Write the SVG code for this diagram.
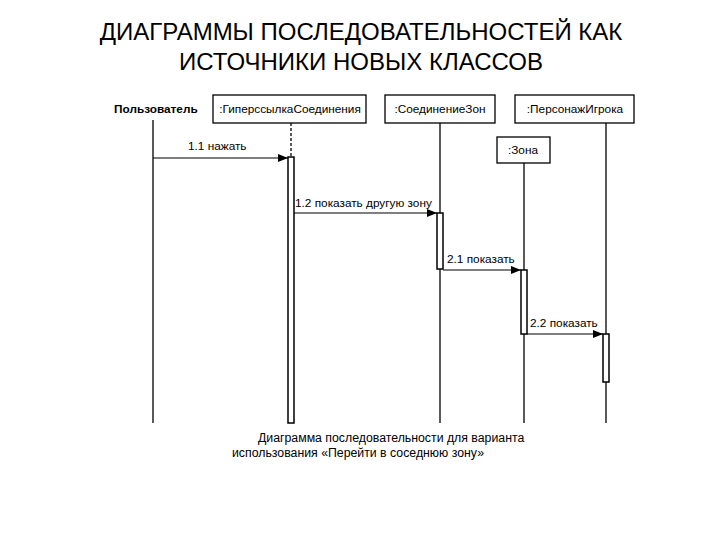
<svg xmlns="http://www.w3.org/2000/svg" width="720" height="540" viewBox="0 0 720 540">
<defs>
<style>
text{font-family:"Liberation Sans",Arial,sans-serif;fill:#000}
.t{font-size:24px}
.s{font-size:11.8px}
.c{font-size:12.3px}
.box{fill:#fff;stroke:#000;stroke-width:1.3}
.ll{stroke:#000;stroke-width:1.3}
.act{fill:#fff;stroke:#000;stroke-width:1.5}
.m{stroke:#000;stroke-width:1.2;marker-end:url(#ah)}
</style>
<marker id="ah" markerWidth="10" markerHeight="8" refX="10" refY="4" orient="auto" markerUnits="userSpaceOnUse"><path d="M0,0 L10,4 L0,8 Z" fill="#000"/></marker>
</defs>
<rect width="720" height="540" fill="#fff"/>
<text class="t" x="361" y="40" text-anchor="middle">ДИАГРАММЫ ПОСЛЕДОВАТЕЛЬНОСТЕЙ КАК</text>
<text class="t" x="361" y="70" text-anchor="middle">ИСТОЧНИКИ НОВЫХ КЛАССОВ</text>
<g id="user"><text class="s" x="114" y="113" font-weight="bold" font-size="11px">Пользователь</text><line class="ll" x1="153" y1="120" x2="153" y2="423"/></g>
<g id="hyper"><rect class="box" x="213" y="95" width="153" height="28"/><text class="s" x="290" y="113" text-anchor="middle">:ГиперссылкаСоединения</text><line class="ll" x1="291" y1="123" x2="291" y2="157" stroke-dasharray="3,2"/><rect class="act" x="288" y="157" width="6" height="266"/></g>
<g id="conn"><rect class="box" x="385" y="95" width="110" height="28"/><text class="s" x="440" y="113" text-anchor="middle">:СоединениеЗон</text><line class="ll" x1="440" y1="123" x2="440" y2="423"/><rect class="act" x="437" y="213" width="6" height="56"/></g>
<g id="zona"><rect class="box" x="497" y="137" width="53" height="26"/><text class="s" x="523" y="154" text-anchor="middle">:Зона</text><line class="ll" x1="524" y1="163" x2="524" y2="423"/><rect class="act" x="521" y="270" width="6" height="64"/></g>
<g id="pers"><rect class="box" x="515" y="95" width="119" height="28"/><text class="s" x="575" y="113" text-anchor="middle">:ПерсонажИгрока</text><line class="ll" x1="606" y1="123" x2="606" y2="423"/><rect class="act" x="603" y="334" width="6" height="48"/></g>
<g id="connectors">
<line class="m" x1="153" y1="158" x2="288" y2="158"/><text class="s" x="188" y="150">1.1 нажать</text>
<line class="m" x1="294" y1="213" x2="437" y2="213"/><text class="s" x="295" y="207">1.2 показать другую зону</text>
<line class="m" x1="443" y1="270" x2="521" y2="270"/><text class="s" x="447" y="263">2.1 показать</text>
<line class="m" x1="527" y1="334" x2="603" y2="334"/><text class="s" x="530" y="327">2.2 показать</text>
</g>
<text class="c" x="258" y="442">Диаграмма последовательности для варианта</text>
<text class="c" x="232" y="457">использования «Перейти в соседнюю зону»</text>
</svg>
